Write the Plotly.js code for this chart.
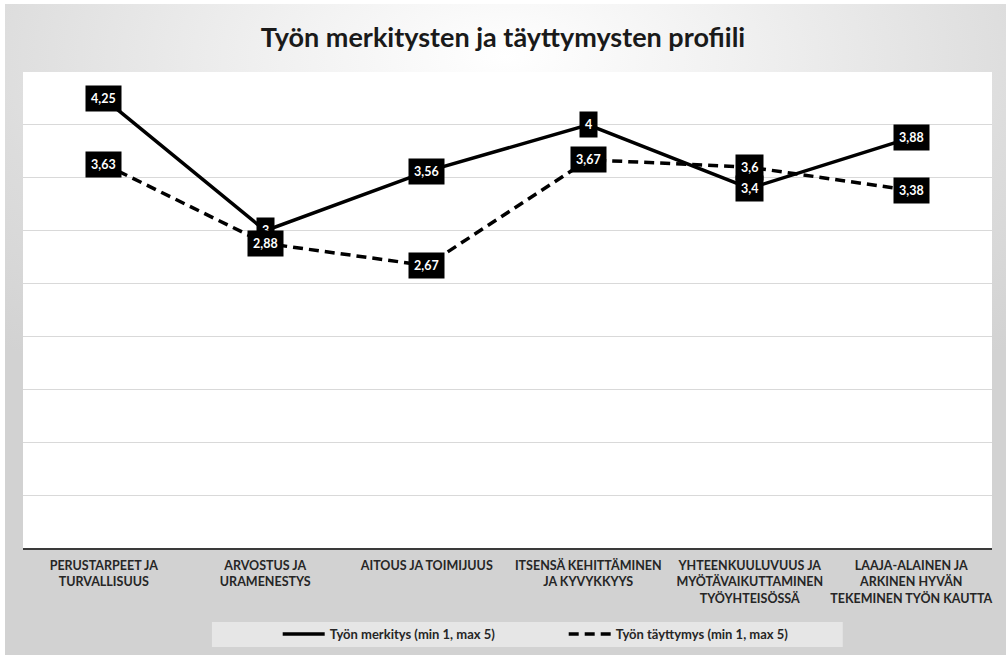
<!DOCTYPE html>
<html>
<head>
<meta charset="utf-8">
<script src="https://cdn.plot.ly/plotly-3.0.1.min.js"></script>
<style>
  html, body { margin: 0; padding: 0; background: #ffffff; }
  #wrap {
    position: absolute; left: 5px; top: 4px; width: 1001px; height: 651px;
    background: radial-gradient(ellipse 75% 60% at 50% 8%, #ffffff 0%, #f1f1f1 30%, #dcdcdc 70%, #d2d2d2 100%);
  }
  #chart { position: absolute; left: -5px; top: -4px; width: 1006px; height: 655px; }
</style>
</head>
<body>
<div id="wrap"><div id="chart"></div></div>
<script>
const categories = [
  "PERUSTARPEET JA<br>TURVALLISUUS",
  "ARVOSTUS JA<br>URAMENESTYS",
  "AITOUS JA TOIMIJUUS",
  "ITSENSÄ KEHITTÄMINEN<br>JA KYVYKKYYS",
  "YHTEENKUULUVUUS JA<br>MYÖTÄVAIKUTTAMINEN<br>TYÖYHTEISÖSSÄ",
  "LAAJA-ALAINEN JA<br>ARKINEN HYVÄN<br>TEKEMINEN TYÖN KAUTTA"
];
const merkitys = [4.25, 3, 3.56, 4, 3.4, 3.88];
const tayttymys = [3.63, 2.88, 2.67, 3.67, 3.6, 3.38];
const seriesNames = ["Työn merkitys (min 1, max 5)", "Työn täyttymys (min 1, max 5)"];
const gridVals = [0.5, 1, 1.5, 2, 2.5, 3, 3.5, 4];
const titleText = "Työn merkitysten ja täyttymysten profiili";

const FONT = "Lato, 'Open Sans', sans-serif";
const fmt = v => String(v).replace('.', ',');

function labels(vals) {
  return vals.map((v, i) => ({
    x: categories[i], y: v, xref: 'x', yref: 'y',
    text: '<b>' + fmt(v) + '</b>', showarrow: false,
    bgcolor: '#000000', borderpad: 5,
    font: {family: FONT, size: 12.5, color: '#ffffff'}
  }));
}

const traces = [
  {x: categories, y: merkitys, type: 'scatter', mode: 'lines', name: seriesNames[0],
   line: {color: '#000000', width: 3.5}, hoverinfo: 'skip'},
  {x: categories, y: tayttymys, type: 'scatter', mode: 'lines', name: seriesNames[1],
   line: {color: '#000000', width: 3.5, dash: '10px,6px'}, hoverinfo: 'skip'}
];

const layout = {
  width: 1006, height: 655,
  margin: {l: 23, r: 14, t: 72, b: 107, autoexpand: false},
  paper_bgcolor: 'rgba(0,0,0,0)',
  plot_bgcolor: '#ffffff',
  title: {text: '<b>' + titleText + '</b>', x: 0.5, xanchor: 'center', y: 0.943, yanchor: 'middle',
          font: {family: FONT, size: 27, color: '#1a1a1a'}},
  xaxis: {
    type: 'category', range: [-0.5, 5.5], showgrid: false, zeroline: false,
    showline: true, linecolor: '#3a3a3a', linewidth: 2,
    ticks: '', ticklabelstandoff: 5,
    tickfont: {family: FONT, size: 12.5, color: '#262626', weight: 'bold'},
    fixedrange: true
  },
  yaxis: {
    range: [0, 4.5], tickvals: gridVals, showticklabels: false,
    showgrid: true, gridcolor: '#d9d9d9', gridwidth: 1, zeroline: false, showline: false,
    fixedrange: true
  },
  showlegend: true,
  legend: {
    orientation: 'h', x: 0.558, xanchor: 'center', y: -0.1807, yanchor: 'middle',
    bgcolor: 'rgba(0,0,0,0)', itemwidth: 42, entrywidth: 229, entrywidthmode: 'pixels',
    font: {family: FONT, size: 13, color: '#262626', weight: 'bold'}
  },
  shapes: [{
    type: 'rect', xref: 'paper', yref: 'paper', layer: 'below',
    x0: 0.195, x1: 0.846, y0: -0.1555, y1: -0.208,
    fillcolor: '#e6e6e6', line: {width: 0}
  }],
  annotations: labels(merkitys).concat(labels(tayttymys))
};

Plotly.newPlot('chart', traces, layout, {displayModeBar: false, staticPlot: true});
</script>
</body>
</html>
